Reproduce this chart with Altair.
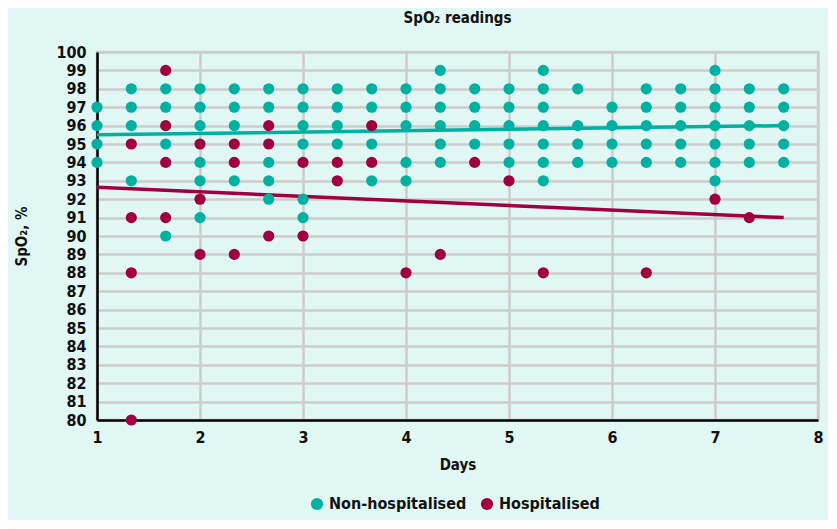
import altair as alt
import pandas as pd

# Non-hospitalised readings (day, SpO2)
nh_day = ([1]*4 + [1.333]*4 + [1.667]*4 + [2]*6 + [2.333]*4 + [2.667]*5 + [3]*6 +
          [3.333]*4 + [3.667]*4 + [4]*5 + [4.333]*6 + [4.667]*4 + [5]*5 + [5.333]*7 +
          [5.667]*4 + [6]*4 + [6.333]*5 + [6.667]*5 + [7]*7 + [7.333]*5 + [7.667]*5)
nh_spo2 = [97, 96, 95, 94,
           98, 97, 96, 93,
           98, 97, 95, 90,
           98, 97, 96, 94, 93, 91,
           98, 97, 96, 93,
           98, 97, 94, 93, 92,
           98, 97, 96, 95, 92, 91,
           98, 97, 96, 95,
           98, 97, 95, 93,
           98, 97, 96, 94, 93,
           99, 98, 97, 96, 95, 94,
           98, 97, 96, 95,
           98, 97, 96, 95, 94,
           99, 98, 97, 96, 95, 94, 93,
           98, 96, 95, 94,
           97, 96, 95, 94,
           98, 97, 96, 95, 94,
           98, 97, 96, 95, 94,
           99, 98, 97, 96, 95, 94, 93,
           98, 97, 96, 95, 94,
           98, 97, 96, 95, 94]

# Hospitalised readings (day, SpO2)
h_day = ([1.333]*4 + [1.667]*4 + [2]*3 + [2.333]*3 + [2.667]*3 + [3]*2 + [3.333]*2 +
         [3.667]*2 + [4] + [4.333] + [4.667] + [5] + [5.333] + [6.333] + [7] + [7.333])
h_spo2 = [95, 91, 88, 80,
          99, 96, 94, 91,
          95, 92, 89,
          95, 94, 89,
          96, 95, 90,
          94, 90,
          94, 93,
          96, 94,
          88, 89, 94, 93, 88, 88, 92, 91]

# Trend lines (endpoints)
trend_day = [1, 7.667]
nh_trend = [95.5, 96.0]
h_trend = [92.65, 91.0]

series = ["Non-hospitalised", "Hospitalised"]
colors = ["#00B0A0", "#A0003F"]

pts = pd.DataFrame({
    "day": nh_day + h_day,
    "spo2": nh_spo2 + h_spo2,
    "group": [series[0]]*len(nh_day) + [series[1]]*len(h_day),
})
nh_line = pd.DataFrame({"day": trend_day, "spo2": nh_trend})
h_line = pd.DataFrame({"day": trend_day, "spo2": h_trend})

FONT = "Liberation Sans Narrow, DejaVu Sans Condensed, sans-serif"

xs = alt.X("day:Q", scale=alt.Scale(domain=[1, 8], nice=False, zero=False),
           axis=alt.Axis(title="Days", values=list(range(1, 9)), tickCount=8, format="d"))
ys = alt.Y("spo2:Q", scale=alt.Scale(domain=[80, 100], nice=False, zero=False),
           axis=alt.Axis(title="SpO₂, %", values=list(range(80, 101)), format="d"))

line1 = alt.Chart(nh_line).mark_line(strokeWidth=3.5, color=colors[0]).encode(x=xs, y=ys)
line2 = alt.Chart(h_line).mark_line(strokeWidth=3.5, color=colors[1]).encode(x=xs, y=ys)

points = alt.Chart(pts).mark_circle(size=125, opacity=1).encode(
    x=xs, y=ys,
    color=alt.Color("group:N", scale=alt.Scale(domain=series, range=colors),
                    legend=alt.Legend(title=None, orient="none", direction="horizontal",
                                      legendX=212, legendY=444, symbolType="circle",
                                      symbolSize=150, labelFontSize=16, labelFont=FONT,
                                      labelFontWeight="bold", labelColor="#111111",
                                      columnPadding=12, symbolOpacity=1)),
)

chart = alt.layer(line1, line2, points).properties(
    width=721, height=368,
    title=alt.Title("SpO₂ readings", fontSize=15, font=FONT, fontWeight="bold",
                    color="#111111", anchor="middle", offset=18),
    background="#E1F7F4",
    padding={"left": 89, "top": 44, "right": 10, "bottom": 100},
    autosize=alt.AutoSizeParams(type="none"),
).configure_view(stroke="#CCCCCC", strokeWidth=2.5).configure_axis(
    grid=True, gridColor="#CCCCCC", gridWidth=2.5, gridOpacity=1,
    ticks=False, domainColor="#000000", domainWidth=2.5,
    labelFont=FONT, labelFontSize=16, labelFontWeight="bold", labelColor="#111111",
    titleFont=FONT, titleFontSize=15, titleFontWeight="bold", titleColor="#111111",
).configure_axisX(labelPadding=9, titlePadding=12, labelFlush=False).configure_axisY(
    labelPadding=11, titlePadding=26, labelBaseline="middle")

chart.save("out.html", embed_options={"renderer": "svg", "actions": False})
